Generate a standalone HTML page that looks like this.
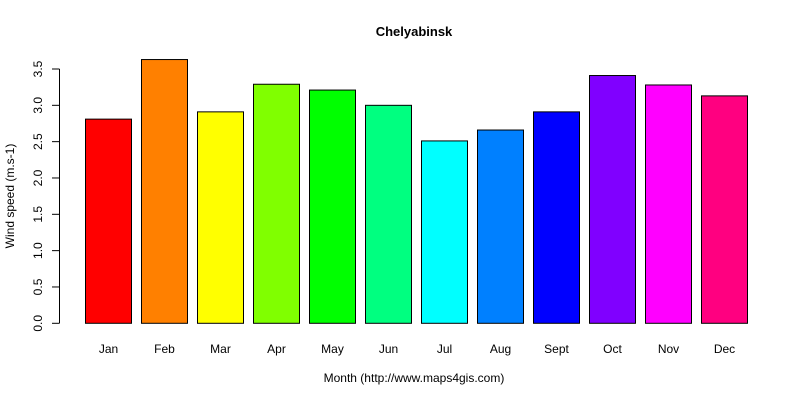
<!DOCTYPE html>
<html><head><meta charset="utf-8"><style>body{margin:0;background:#fff}svg{display:block;font-family:"Liberation Sans",Arial,sans-serif}</style></head>
<body>
<svg id="chart" width="800" height="400">
<text x="414" y="36" font-size="13" font-weight="bold" text-anchor="middle">Chelyabinsk</text>
<text x="414" y="382" font-size="12" text-anchor="middle">Month (http://www.maps4gis.com)</text>
<text transform="translate(14,196) rotate(-90)" font-size="12" text-anchor="middle">Wind speed (m.s-1)</text>
<g id="bars"></g><g id="yaxis"></g><g id="xlabels"></g>
</svg>
<script>
const months=["Jan","Feb","Mar","Apr","May","Jun","Jul","Aug","Sept","Oct","Nov","Dec"];
const speeds=[2.81,3.63,2.91,3.29,3.21,3.00,2.51,2.66,2.91,3.41,3.28,3.13];
const colors=["#FF0000","#FF8000","#FFFF00","#80FF00","#00FF00","#00FF80","#00FFFF","#0080FF","#0000FF","#8000FF","#FF00FF","#FF0080"];
const yTicks=["0.0","0.5","1.0","1.5","2.0","2.5","3.0","3.5"];
const NS="http://www.w3.org/2000/svg";
const y=v=>323.3-v*72.66;
const x=i=>85.5+i*56;
function mk(t,a,p){const e=document.createElementNS(NS,t);for(const k in a)e.setAttribute(k,a[k]);p.appendChild(e);return e;}
const bars=document.getElementById('bars'),ya=document.getElementById('yaxis'),xl=document.getElementById('xlabels');
speeds.forEach((v,i)=>{
 const r=mk('rect',{x:x(i),y:y(v),width:46,height:y(0)-y(v),fill:colors[i],stroke:'#000','stroke-width':1},bars);
 
 
 const t=mk('text',{x:x(i)+23,y:353,'font-size':12,'text-anchor':'middle'},xl);
 t.textContent=months[i];
 
 
});
const ax=mk('line',{x1:59.5,x2:59.5,y1:y(0),y2:y(3.5),stroke:'#000'},ya);


yTicks.forEach(s=>{
 const v=parseFloat(s);
 mk('line',{x1:52,x2:59.5,y1:y(v),y2:y(v),stroke:'#000'},ya);
 const t=mk('text',{transform:`translate(42,${y(v)}) rotate(-90)`,'font-size':12,'text-anchor':'middle'},ya);
 t.textContent=s;
 
 
});
</script>
</body></html>
